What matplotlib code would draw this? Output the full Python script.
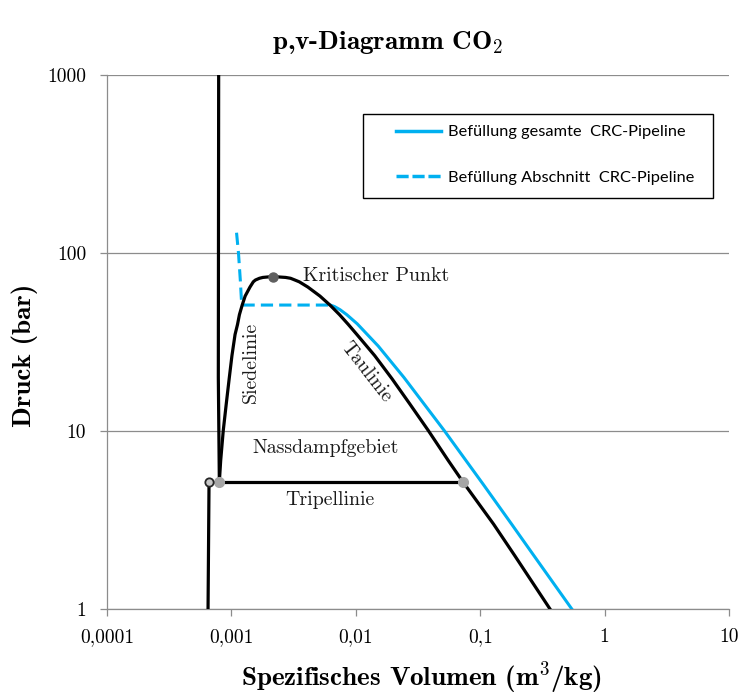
import matplotlib
matplotlib.use("Agg")
import matplotlib.pyplot as plt
from matplotlib.lines import Line2D
from matplotlib.patches import Rectangle

plt.rcParams['font.family'] = 'cmr10'
plt.rcParams['mathtext.fontset'] = 'cm'
plt.rcParams['axes.formatter.use_mathtext'] = True

# saturated liquid line (Siedelinie)
siede_v = [0.00080, 0.00082, 0.00086, 0.00091, 0.00096, 0.00101, 0.00107, 0.00112,
           0.00116, 0.00122, 0.00129, 0.00141, 0.00150, 0.00156, 0.00168, 0.00179,
           0.00214]
siede_p = [5.18, 6.82, 10.05, 14.28, 19.70, 26.49, 34.85, 39.69,
           45.02, 50.87, 57.29, 64.34, 68.9, 70.5, 72.1, 72.9,
           73.77]

# saturated vapour line (Taulinie), continued below the triple line
tau_v = [0.00214, 0.00273, 0.00299, 0.00324, 0.00351, 0.00412, 0.00515, 0.00622,
         0.0074, 0.0087, 0.0102, 0.0142, 0.0195, 0.0270, 0.0383, 0.0554, 0.0726,
         0.128, 0.189, 0.364]
tau_p = [73.77, 72.9, 72.1, 70.5, 68.9, 64.34, 57.29, 50.87,
         45.02, 39.69, 34.85, 26.49, 19.70, 14.28, 10.05, 6.82, 5.18,
         3.0, 2.0, 1.0]

# melting line and solid line
schmelz_v = [0.00080, 0.000785, 0.00079]
schmelz_p = [5.18, 20, 1000]
fest_v = [0.000661, 0.000649]
fest_p = [5.18, 1.0]

# triple line
tripel_v = [0.00080, 0.0726]
tripel_p = [5.18, 5.18]

kp_v, kp_p = 0.00214, 73.77

# filling paths
gesamt_v = [0.00625, 0.00675, 0.00748, 0.00847, 0.01027, 0.01515, 0.02436, 0.0517,
            0.1061, 0.1787, 0.2694, 0.545]
gesamt_p = [51, 50, 48, 45, 40, 30, 20, 10, 5, 3, 2, 1]
abschnitt_v = [0.00110, 0.00114, 0.00118, 0.00121, 0.00625]
abschnitt_p = [130, 100, 70, 51, 51]

x_ticks = [0.0001, 0.001, 0.01, 0.1, 1, 10]
x_labels = ['0,0001', '0,001', '0,01', '0,1', '1', '10']
y_ticks = [1, 10, 100, 1000]
y_labels = ['1', '10', '100', '1000']

blue = '#00B0F0'
grey = '#8c8c8c'

fig = plt.figure(figsize=(7.42, 6.97), dpi=100)
ax = fig.add_axes([107 / 742, 1 - 609 / 697, (729 - 107) / 742, (609 - 75) / 697])
ax.set_xscale('log')
ax.set_yscale('log')
ax.set_xlim(0.0001, 10)
ax.set_ylim(1, 1000)

ax.plot(gesamt_v, gesamt_p, color=blue, lw=2.2, zorder=3)
ax.plot(abschnitt_v, abschnitt_p, color=blue, lw=2.2, ls=(0, (4, 2)), zorder=3)

for v, p in [(siede_v, siede_p), (tau_v, tau_p), (schmelz_v, schmelz_p),
             (fest_v, fest_p), (tripel_v, tripel_p)]:
    ax.plot(v, p, color='black', lw=2.3, zorder=4, solid_joinstyle='round')

ax.plot(tripel_v, tripel_p, ls='none', marker='o', ms=7, color='#a6a6a6', zorder=5)
ax.plot([fest_v[0]], [fest_p[0]], ls='none', marker='o', ms=6, mfc='#c8c8c8',
        mec='#262626', mew=1.3, zorder=5)
ax.plot([kp_v], [kp_p], ls='none', marker='o', ms=6.5, color='#5f5f5f', zorder=5)

ax.set_xticks(x_ticks)
ax.set_xticklabels(x_labels)
ax.set_yticks(y_ticks)
ax.set_yticklabels(y_labels)
ax.minorticks_off()
ax.tick_params(axis='both', direction='out', length=5, width=0.9, color=grey,
               labelsize=14)
ax.tick_params(axis='x', pad=9)
ax.tick_params(axis='y', pad=10)

ax.yaxis.grid(True, color=grey, lw=0.9)
ax.set_axisbelow(True)
for s in ['top', 'right']:
    ax.spines[s].set_visible(False)
for s in ['left', 'bottom']:
    ax.spines[s].set_color(grey)
    ax.spines[s].set_linewidth(0.9)

# annotations
txt = dict(fontsize=14.3, color='#1a1a1a')
ax.text(0.00376, 74.3, 'Kritischer Punkt', ha='left', va='center', **txt)
ax.text(0.00144, 24.4, 'Siedelinie', ha='center', va='center', rotation=90, **txt)
ax.text(0.0121, 21.4, 'Taulinie', ha='center', va='center', rotation=-52,
        rotation_mode='anchor', **txt)
ax.text(0.00576, 8.03, 'Nassdampfgebiet', ha='center', va='center', **txt)
ax.text(0.0062, 4.10, 'Tripellinie', ha='center', va='center', **txt)

fig.text(388 / 742, 1 - 43 / 697, r'p,v-Diagramm CO$_\mathbf{2}$', family='cmb10',
         fontsize=19.5, ha='center', va='center')
fig.text(421 / 742, 1 - 678 / 697, r'Spezifisches Volumen (m$^\mathbf{3}$/kg)',
         family='cmb10', fontsize=19.5, ha='center', va='center')
fig.text(25 / 742, 1 - 355 / 697, 'Druck (bar)', family='cmb10', fontsize=19.5,
         ha='center', va='center', rotation=90)

# legend box drawn separately so its size follows the reference
fig.patches.append(Rectangle((363 / 742, 1 - 198 / 697), 350 / 742, 84 / 697,
                             transform=fig.transFigure, fill=True, fc='white',
                             ec='black', lw=1.0, zorder=10))
handles = [Line2D([], [], color=blue, lw=2.5),
           Line2D([], [], color=blue, lw=2.5, ls=(0, (3.5, 1.1)))]
labels = ['Befüllung gesamte  CRC-Pipeline', 'Befüllung Abschnitt  CRC-Pipeline']
leg = fig.legend(handles, labels, loc='upper left',
                 bbox_to_anchor=(396 / 742, 1 - 125 / 697),
                 prop={'family': 'Lato', 'size': 11.8},
                 frameon=False, borderpad=0, labelspacing=1.9, handlelength=2.75,
                 handletextpad=0.45, borderaxespad=0)
leg.set_zorder(11)

fig.savefig('out.png', dpi=100)
